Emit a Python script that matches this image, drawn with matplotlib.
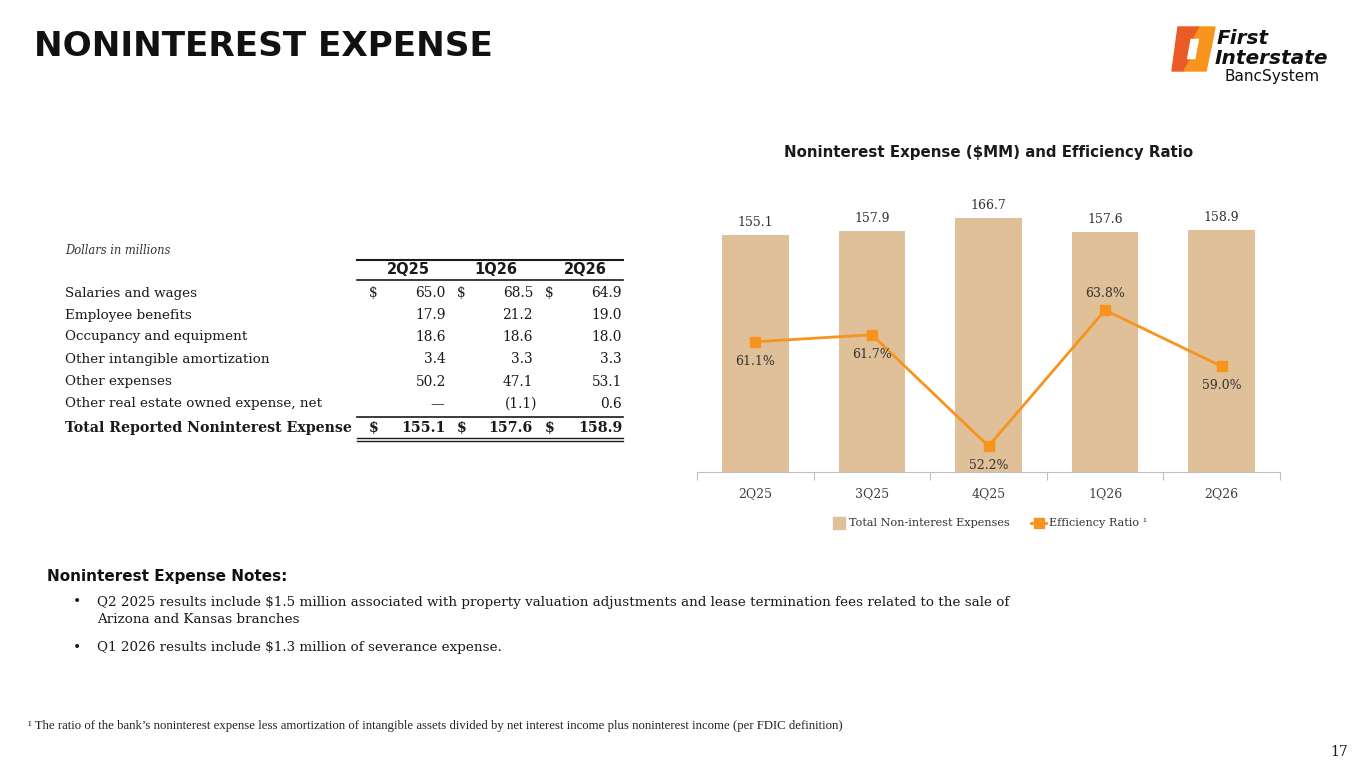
import numpy as np
import matplotlib.pyplot as plt
from matplotlib.patches import Polygon, Rectangle
from matplotlib.lines import Line2D

# chart data
quarters = ["2Q25", "3Q25", "4Q25", "1Q26", "2Q26"]
expenses = [155.1, 157.9, 166.7, 157.6, 158.9]
efficiency = [61.1, 61.7, 52.2, 63.8, 59.0]
eff_label_above = [False, False, False, True, False]

# table data
table_cols = ["2Q25", "1Q26", "2Q26"]
table_rows = ["Salaries and wages", "Employee benefits", "Occupancy and equipment",
              "Other intangible amortization", "Other expenses",
              "Other real estate owned expense, net"]
table_vals = [["65.0", "68.5", "64.9"],
              ["17.9", "21.2", "19.0"],
              ["18.6", "18.6", "18.0"],
              ["3.4", "3.3", "3.3"],
              ["50.2", "47.1", "53.1"],
              ["\u2014", "(1.1)", "0.6"]]
total_label = "Total Reported Noninterest Expense"
total_vals = ["155.1", "157.6", "158.9"]

notes = ["Q2 2025 results include $1.5 million associated with property valuation adjustments and lease termination fees related to the sale of\nArizona and Kansas branches",
         "Q1 2026 results include $1.3 million of severance expense."]

W, H = 1365, 768
BAR_C = "#DFC099"
LINE_C = "#F7941E"
TXT = "#1a1a1a"
SERIF = "DejaVu Serif"

fig = plt.figure(figsize=(W / 100, H / 100), dpi=100)


def fx(x):
    return x / W


def fy(y):
    return 1 - y / H


def txt(x, y, s, **kw):
    kw.setdefault("va", "center")
    kw.setdefault("color", TXT)
    fig.text(fx(x), fy(y), s, **kw)


def hline(x0, x1, y, lw=1.2):
    fig.add_artist(Line2D([fx(x0), fx(x1)], [fy(y), fy(y)], color=TXT, lw=lw,
                          transform=fig.transFigure))


# title
txt(34, 47, "NONINTEREST EXPENSE", fontsize=24.7, fontweight="bold", family="DejaVu Sans", color="#111111")

# logo
fig.add_artist(Polygon([(fx(1178), fy(27)), (fx(1200), fy(27)), (fx(1194), fy(38)), (fx(1190), fy(38)),
                        (fx(1186), fy(60)), (fx(1190), fy(60)), (fx(1184), fy(71)), (fx(1172), fy(71))],
                       closed=True, color="#EA5B25", transform=fig.transFigure))
fig.add_artist(Polygon([(fx(1200), fy(27)), (fx(1215), fy(27)), (fx(1213), fy(38)), (fx(1206), fy(71)),
                        (fx(1184), fy(71)), (fx(1190), fy(60)), (fx(1196), fy(60)), (fx(1200), fy(38)), (fx(1194), fy(38))],
                       closed=True, color="#F7941E", transform=fig.transFigure))
txt(1217, 39, "First", fontsize=14.5, fontweight="bold", style="italic", family="DejaVu Sans", color="#111111")
txt(1215, 58, "Interstate", fontsize=14.5, fontweight="bold", style="italic", family="DejaVu Sans", color="#111111")
txt(1224, 77, "BancSystem", fontsize=11, family="DejaVu Sans", color="#111111")

# table
txt(65, 250, "Dollars in millions", fontsize=8.3, style="italic", family=SERIF, color="#333333")
hline(357, 623, 260, lw=1.5)
col_center = [408, 496, 585]
dollar_x = [369, 457, 545]
val_right = [446, 533, 622]
for cx, c in zip(col_center, table_cols):
    txt(cx, 270, c, fontsize=10.5, fontweight="bold", family="DejaVu Sans", ha="center")
hline(357, 623, 280, lw=1.2)
row_y = [293, 315, 337, 359, 382, 404]
for i, (lab, vals) in enumerate(zip(table_rows, table_vals)):
    y = row_y[i]
    txt(65, y, lab, fontsize=9.7, family=SERIF)
    for j, v in enumerate(vals):
        xr = val_right[j]
        if v.startswith("("):
            xr += 4
        if v == "\u2014":
            xr -= 2
        txt(xr, y, v, fontsize=9.9, family=SERIF, ha="right")
    if i == 0:
        for dx in dollar_x:
            txt(dx, y, "$", fontsize=9.9, family=SERIF)
hline(357, 623, 417, lw=1.2)
txt(65, 428, total_label, fontsize=10.2, fontweight="bold", family=SERIF)
for j, v in enumerate(total_vals):
    txt(dollar_x[j], 428, "$", fontsize=10.2, fontweight="bold", family=SERIF)
    txt(val_right[j], 428, v, fontsize=10.2, fontweight="bold", family=SERIF, ha="right")
hline(357, 623, 438, lw=1.0)
hline(357, 623, 441, lw=1.0)

# chart
txt(989, 153, "Noninterest Expense ($MM) and Efficiency Ratio", fontsize=10.8, fontweight="bold",
    family="DejaVu Sans", ha="center")

ax = fig.add_axes([fx(697), fy(472), fx(1280) - fx(697), (472 - 167) / H])
x = np.arange(len(quarters))
bars = ax.bar(x, expenses, width=0.57, color=BAR_C, zorder=1)
ax.set_xlim(-0.5, len(quarters) - 0.5)
ax.set_ylim(0, 200)
ax.set_yticks([])
for s in ["top", "right", "left"]:
    ax.spines[s].set_visible(False)
ax.spines["bottom"].set_color("#BFBFBF")
ax.set_xticks(np.arange(-0.5, len(quarters), 1.0))
ax.set_xticklabels([])
ax.tick_params(axis="x", which="major", length=6, color="#BFBFBF", direction="out")
ax.set_xticks(x, minor=True)
ax.set_xticklabels(quarters, minor=True, fontsize=9, family=SERIF, color="#404040")
ax.tick_params(axis="x", which="minor", length=0, pad=11)
for xi, v in zip(x, expenses):
    ax.annotate(f"{v:.1f}", (xi, v), xytext=(0, 9), textcoords="offset points",
                ha="center", va="center", fontsize=9, family=SERIF, color="#333333")

ax2 = ax.twinx()
ax2.plot(x, efficiency, color=LINE_C, lw=2, marker="s", markersize=7, zorder=3)
ax2.set_ylim(50, 76)
ax2.set_yticks([])
for s in ["top", "right", "left", "bottom"]:
    ax2.spines[s].set_visible(False)
for xi, v, up in zip(x, efficiency, eff_label_above):
    ax2.annotate(f"{v:.1f}%", (xi, v), xytext=(0, 12 if up else -14), textcoords="offset points",
                 ha="center", va="center", fontsize=9, family=SERIF, color="#333333")

# legend
fig.add_artist(Rectangle((fx(833), fy(529)), fx(12), 12 / H, color=BAR_C, transform=fig.transFigure))
txt(849, 523, "Total Non-interest Expenses", fontsize=8.1, family=SERIF, color="#333333")
fig.add_artist(Line2D([fx(1031), fx(1046)], [fy(523), fy(523)], color=LINE_C, lw=2,
                      transform=fig.transFigure))
fig.add_artist(Line2D([fx(1038.5)], [fy(523)], color=LINE_C, marker="s", markersize=7,
                      transform=fig.transFigure))
txt(1049, 523, "Efficiency Ratio \u00b9", fontsize=8.1, family=SERIF, color="#333333")

# notes
txt(47, 577, "Noninterest Expense Notes:", fontsize=11, fontweight="bold", family="DejaVu Sans", color="#111111")
note_y = [611, 648]
for y, n in zip(note_y, notes):
    txt(73, y - (9 if "\n" in n else 0), "\u2022", fontsize=10, family=SERIF)
    txt(97, y, n, fontsize=9.7, family=SERIF, linespacing=1.4)

# footnote
txt(28, 726, "\u00b9 The ratio of the bank\u2019s noninterest expense less amortization of intangible assets divided by net interest income plus noninterest income (per FDIC definition)",
    fontsize=9.2, family="Liberation Serif", color="#222222")
txt(1348, 752, "17", fontsize=10, family=SERIF, ha="right")

plt.savefig("out.png", dpi=100)
